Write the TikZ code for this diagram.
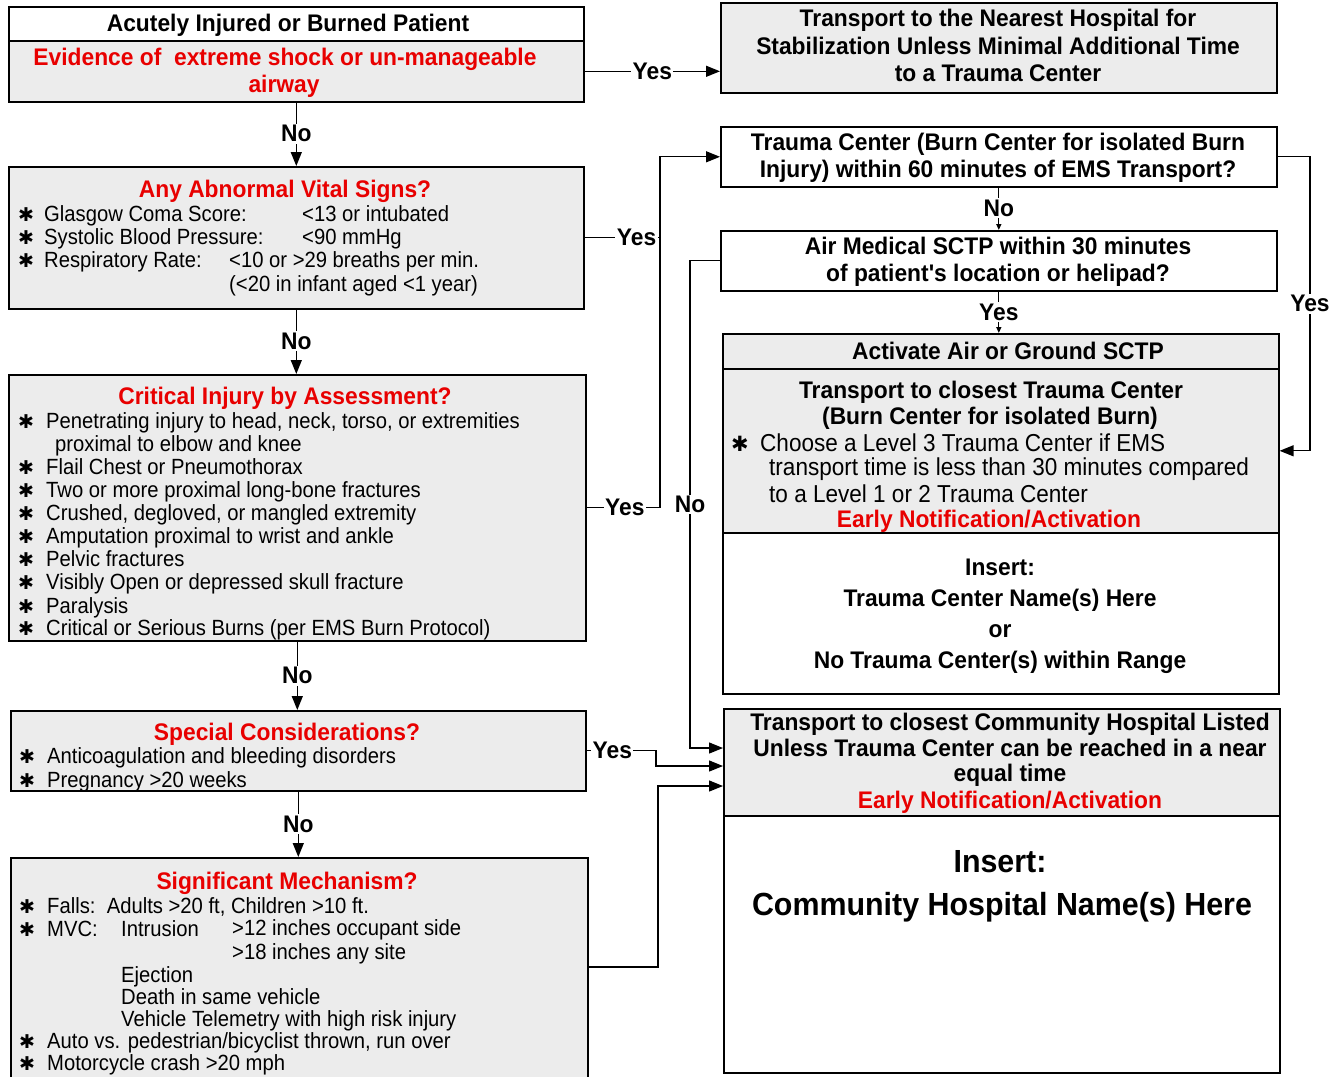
\documentclass[tikz,border=0pt]{standalone}
\usepackage{fontspec}
\setmainfont{Liberation Sans}[FakeStretch=0.92]
\newfontfamily\headfont{Liberation Sans}[FakeStretch=0.95]
\newfontfamily\symfont{DejaVu Sans}
\usetikzlibrary{arrows.meta}
\definecolor{boxgray}{RGB}{236,236,236}
\definecolor{alertred}{RGB}{232,0,0}
\newcommand\fsz[1]{\fontsize{#1}{#1}\selectfont}
\tikzset{
  box/.style={draw, line width=1.6pt, rectangle, inner sep=0pt, anchor=north west},
  gbox/.style={box, fill=boxgray},
  wbox/.style={box, fill=white},
  body/.style={inner sep=0pt, anchor=mid west, yshift=-6pt, font=\fsz{22}},
  bigbody/.style={inner sep=0pt, anchor=mid west, yshift=-6pt, font=\fsz{24.5}},
  star/.style={inner sep=0pt, anchor=mid west, yshift=-5pt, font=\symfont\fsz{19}},
  head/.style={inner sep=0pt, anchor=mid, yshift=-6pt, font=\headfont\bfseries\fsz{24}},
  redhead/.style={head, text=alertred},
  lbl/.style={fill=white, inner sep=1.5pt, font=\headfont\bfseries\fsz{24}},
  conn/.style={line width=1.3pt},
  arr/.style={conn, -{Triangle[length=14pt,width=11pt]}},
  tinyarr/.style={conn, -{Triangle[length=6pt,width=5pt]}},
}
\begin{document}
\begin{tikzpicture}[x=1pt,y=-1pt]
\useasboundingbox (0,0) rectangle (1337,1076);
\begin{scope}
\clip (0,0) rectangle (1337,1076);

% ---------- left column boxes ----------
\node[wbox, minimum width=575, minimum height=34] (injtop) at (8,6) {};
\node[gbox, minimum width=575, minimum height=61] (injured) at (8,40) {};
\node[gbox, minimum width=575, minimum height=142] (vital) at (8,166) {};
\node[gbox, minimum width=577, minimum height=266] (critical) at (8,374) {};
\node[gbox, minimum width=575, minimum height=80] (special) at (10,710) {};
\node[gbox, minimum width=577, minimum height=240] (mech) at (10,857) {};

% ---------- right column boxes ----------
\node[gbox, minimum width=556, minimum height=90] (transport) at (720,2) {};
\node[wbox, minimum width=556, minimum height=60] (tc) at (720,126) {};
\node[wbox, minimum width=556, minimum height=60] (air) at (720,230) {};
\node[gbox, minimum width=556, minimum height=35] (acttop) at (722,333) {};
\node[gbox, minimum width=556, minimum height=164] (actmid) at (722,368) {};
\node[wbox, minimum width=556, minimum height=161] (actbot) at (722,532) {};
\node[gbox, minimum width=556, minimum height=107] (comm) at (723,708) {};
\node[wbox, minimum width=556, minimum height=257] (commbot) at (723,815) {};

% ---------- texts: first patient box ----------
\node[head] (injA) at (288,23) {Acutely Injured or Burned Patient};
\node[redhead] (injB) at (285,57) {Evidence of\ \ extreme shock or un-manageable};
\node[redhead] (injC) at (284,84) {airway};

% ---------- vital signs ----------
\node[redhead] (vT) at (285,189) {Any Abnormal Vital Signs?};
\node[star] (vS1) at (18,214) {✱};
\node[body] (v1) at (44,213) {Glasgow Coma Score:};
\node[body] (v1b) at (302,213) {<13 or intubated};
\node[star] (vS2) at (18,237) {✱};
\node[body] (v2) at (44,236) {Systolic Blood Pressure:};
\node[body] (v2b) at (302,236) {<90 mmHg};
\node[star] (vS3) at (18,260) {✱};
\node[body] (v3) at (44,259) {Respiratory Rate:};
\node[body] (v3b) at (229,259) {<10 or >29 breaths per min.};
\node[body] (v4b) at (229,283) {(<20 in infant aged <1 year)};

% ---------- critical injury ----------
\node[redhead] (cT) at (285,396) {Critical Injury by Assessment?};
\foreach \n/\y in {1/421,2/467,3/490,4/513,5/536,6/559,7/582,8/606,9/628}
  \node[star] (cS\n) at (18,\y) {✱};
\node[body] (c1) at (46,420) {Penetrating injury to head, neck, torso, or extremities};
\node[body] (c1b) at (55,443) {proximal to elbow and knee};
\node[body] (c2) at (46,466) {Flail Chest or Pneumothorax};
\node[body] (c3) at (46,489) {Two or more proximal long-bone fractures};
\node[body] (c4) at (46,512) {Crushed, degloved, or mangled extremity};
\node[body] (c5) at (46,535) {Amputation proximal to wrist and ankle};
\node[body] (c6) at (46,558) {Pelvic fractures};
\node[body] (c7) at (46,581) {Visibly Open or depressed skull fracture};
\node[body] (c8) at (46,605) {Paralysis};
\node[body] (c9) at (46,627) {Critical or Serious Burns (per EMS Burn Protocol)};

% ---------- special considerations ----------
\node[redhead] (sT) at (287,732) {Special Considerations?};
\node[star] (sS1) at (19,756) {✱};
\node[body] (s1) at (47,755) {Anticoagulation and bleeding disorders};
\node[star] (sS2) at (19,780) {✱};
\node[body] (s2) at (47,779) {Pregnancy >20 weeks};

% ---------- significant mechanism ----------
\node[redhead] (mT) at (287,881) {Significant Mechanism?};
\node[star] (mS1) at (19,906) {✱};
\node[body] (m1) at (47,905) {Falls:\ \ Adults >20 ft, Children >10 ft.};
\node[star] (mS2) at (19,929) {✱};
\node[body] (m2) at (47,928) {MVC:};
\node[body] (m2b) at (121,928) {Intrusion};
\node[body] (m2c) at (232,927) {>12 inches occupant side};
\node[body] (m3) at (232,951) {>18 inches any site};
\node[body] (m4) at (121,974) {Ejection};
\node[body] (m5) at (121,996) {Death in same vehicle};
\node[body] (m6) at (121,1018) {Vehicle Telemetry with high risk injury};
\node[star] (mS7) at (19,1041) {✱};
\node[body] (m7) at (47,1040) {Auto vs. pedestrian/bicyclist thrown, run over};
\node[star] (mS8) at (19,1063) {✱};
\node[body] (m8) at (47,1062) {Motorcycle crash >20 mph};

% ---------- right column texts ----------
\node[head] (tA) at (998,18) {Transport to the Nearest Hospital for};
\node[head] (tB) at (998,46) {Stabilization Unless Minimal Additional Time};
\node[head] (tC) at (998,73) {to a Trauma Center};

\node[head] (tcA) at (998,142) {Trauma Center (Burn Center for isolated Burn};
\node[head] (tcB) at (998,169) {Injury) within 60 minutes of EMS Transport?};

\node[head] (aA) at (998,246) {Air Medical SCTP within 30 minutes};
\node[head] (aB) at (998,273) {of patient's location or helipad?};

\node[head] (fH) at (1008,351) {Activate Air or Ground SCTP};
\node[head] (fA) at (991,390) {Transport to closest Trauma Center};
\node[head] (fB) at (990,416) {(Burn Center for isolated Burn)};
\node[star, font=\symfont\fsz{21}] (fS) at (731,444) {✱};
\node[bigbody] (f1) at (760,443) {Choose a Level 3 Trauma Center if EMS};
\node[bigbody] (f2) at (769,467) {transport time is less than 30 minutes compared};
\node[bigbody] (f3) at (769,494) {to a Level 1 or 2 Trauma Center};
\node[redhead] (fR) at (989,519) {Early Notification/Activation};
\node[head] (fI) at (1000,567) {Insert:};
\node[head] (fN1) at (1000,598) {Trauma Center Name(s) Here};
\node[head] (fN2) at (1000,629) {or};
\node[head] (fN3) at (1000,660) {No Trauma Center(s) within Range};

\node[head] (gA) at (1010,722) {Transport to closest Community Hospital Listed};
\node[head] (gB) at (1010,748) {Unless Trauma Center can be reached in a near};
\node[head] (gC) at (1010,773) {equal time};
\node[redhead] (gR) at (1010,800) {Early Notification/Activation};
\node[head, yshift=-4pt, font=\headfont\bfseries\fsz{32}] (gI) at (1000,860) {Insert:};
\node[head, yshift=-4pt, font=\headfont\bfseries\fsz{32}] (gN) at (1002,903) {Community Hospital Name(s) Here};

% ---------- bus lines and levels ----------
\coordinate (yesbus) at (660,0);
\coordinate (nobus) at (690,0);
\coordinate (rbus) at (1310,0);
\coordinate (sbus) at (656,0);
\coordinate (mbus) at (658,0);
\coordinate (lv1) at (0,748);
\coordinate (lv2) at (0,766);
\coordinate (lv3) at (0,786);
\coordinate (lv4) at (0,967);

% ---------- connectors ----------
\draw[arr] (injured.east) -- node[lbl, pos=0.5] {Yes} (injured.east -| transport.west);
\draw[arr] (injured.south) -- node[lbl, pos=0.49] {No} (vital.north);
\draw[arr] (vital.south) -- node[lbl, pos=0.49] {No} (vital.south |- critical.north);
\draw[arr] (critical.south) -- node[lbl, pos=0.5] {No} (critical.south |- special.north);
\draw[arr] (special.south) -- node[lbl, pos=0.5] {No} (special.south |- mech.north);

\draw[conn] (vital.east) -- node[lbl, pos=0.69] {Yes} (vital.east -| yesbus);
\draw[arr] (critical.east) -- node[lbl, pos=0.52] {Yes} (critical.east -| yesbus)
  -- (yesbus |- tc.west) -- (tc.west);

\draw[arr] (tc.east) -- (tc.east -| rbus) -- node[lbl, pos=0.5] {Yes} (rbus |- actmid.east) -- (actmid.east);
\draw[tinyarr] (tc.south) -- node[lbl, pos=0.48] {No} (air.north);
\draw[tinyarr] (air.south) -- node[lbl, pos=0.5] {Yes} (air.south |- acttop.north);

\draw[arr] (air.west) -- (air.west -| nobus) -- node[lbl, pos=0.5] {No} (nobus |- lv1) -- (comm.west |- lv1);
\draw[arr] (special.east) -- node[lbl, pos=0.37] {Yes} (special.east -| sbus) -- (sbus |- lv2) -- (comm.west |- lv2);
\draw[arr] (mech.east |- lv4) -- (mbus |- lv4) -- (mbus |- lv3) -- (comm.west |- lv3);
\end{scope}
\end{tikzpicture}
\end{document}
